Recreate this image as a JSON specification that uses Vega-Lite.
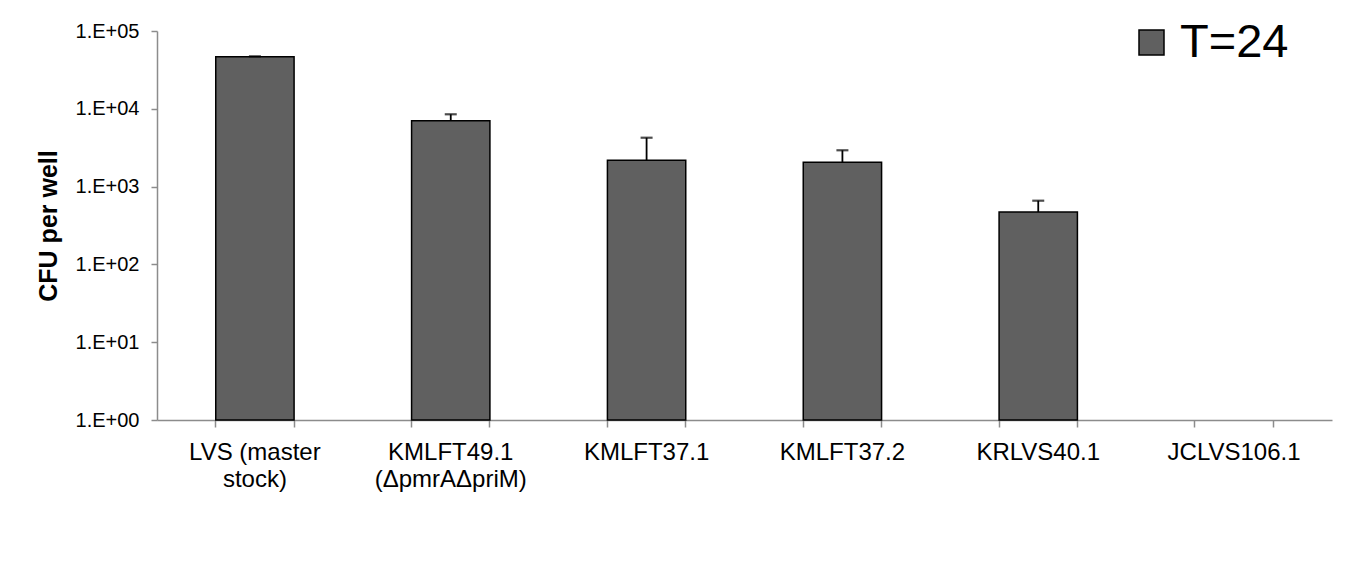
{
  "$schema": "https://vega.github.io/schema/vega-lite/v6.json",
  "width": 1175,
  "height": 389,
  "autosize": "none",
  "padding": {"left": 157, "top": 31, "right": 39, "bottom": 149},
  "background": "white",
  "config": {
    "font": "Liberation Sans",
    "view": {"stroke": null},
    "axis": {"labelFont": "Liberation Sans", "labelColor": "black", "domainColor": "#8c8c8c", "tickColor": "#8c8c8c", "grid": false, "domainWidth": 1.5, "tickWidth": 1.5}
  },
  "data": {
    "values": [
      {"strain": "LVS (master stock)", "series": "T=24", "cfu": 46700, "upper": 47300},
      {"strain": "KMLFT49.1 (ΔpmrAΔpriM)", "series": "T=24", "cfu": 7030, "upper": 8500},
      {"strain": "KMLFT37.1", "series": "T=24", "cfu": 2180, "upper": 4250},
      {"strain": "KMLFT37.2", "series": "T=24", "cfu": 2050, "upper": 2930},
      {"strain": "KRLVS40.1", "series": "T=24", "cfu": 472, "upper": 659},
      {"strain": "JCLVS106.1", "series": "T=24", "cfu": null, "upper": null}
    ]
  },
  "encoding": {
    "x": {
      "field": "strain",
      "type": "nominal",
      "sort": null,
      "scale": {
        "domain": ["LVS (master stock)", "KMLFT49.1 (ΔpmrAΔpriM)", "KMLFT37.1", "KMLFT37.2", "KRLVS40.1", "JCLVS106.1"],
        "paddingInner": 0.6,
        "paddingOuter": 0.3
      }
    }
  },
  "layer": [
    {
      "mark": {"type": "bar", "stroke": "black", "strokeWidth": 1.5},
      "encoding": {
        "x": {
          "field": "strain", "type": "nominal", "sort": null,
          "axis": {"orient": "bottom", "title": null, "labels": false, "ticks": true, "tickSize": 7, "bandPosition": 0, "domain": true}
        },
        "y": {
          "field": "cfu",
          "type": "quantitative",
          "scale": {"type": "log", "domain": [1, 100000], "nice": false},
          "axis": {
            "title": "CFU per well",
            "titleFont": "Liberation Sans",
            "titleFontSize": 25,
            "titleFontWeight": "bold",
            "titleColor": "black",
            "titlePadding": 14,
            "values": [1, 10, 100, 1000, 10000, 100000],
            "labelExpr": "'1.E+0' + round(log(datum.value) / LN10)",
            "labelFontSize": 20,
            "labelPadding": 12,
            "tickSize": 6
          }
        },
        "y2": {"datum": 1},
        "color": {
          "field": "series",
          "type": "nominal",
          "scale": {"range": ["#606060"]},
          "legend": {
            "title": null,
            "orient": "none",
            "legendX": 971,
            "legendY": -12,
            "symbolType": "square",
            "symbolSize": 625,
            "symbolStrokeColor": "black",
            "symbolStrokeWidth": 1.5,
            "symbolFillColor": "#606060",
            "symbolOpacity": 1,
            "labelFontSize": 47,
            "labelFont": "Liberation Sans",
            "labelColor": "black",
            "labelOffset": 5,
            "labelLimit": 400
          }
        }
      }
    },
    {
      "mark": {"type": "rule", "color": "black", "strokeWidth": 1.8},
      "encoding": {
        "x": {
          "field": "strain", "type": "nominal", "sort": null,
          "axis": {"orient": "bottom", "title": null, "labels": false, "ticks": true, "tickSize": 7, "bandPosition": 1, "domain": false}
        },
        "y": {"field": "cfu", "type": "quantitative"},
        "y2": {"field": "upper"}
      }
    },
    {
      "mark": {"type": "tick", "color": "black", "thickness": 2.2, "size": 12, "orient": "horizontal"},
      "encoding": {
        "x": {
          "field": "strain", "type": "nominal", "sort": null,
          "axis": {
            "orient": "bottom", "title": null, "ticks": false, "domain": false,
            "labelFontSize": 24,
            "labelPadding": 20,
            "labelLineHeight": 27,
            "labelAngle": 0,
            "labelBaseline": "top",
            "labelLimit": 300,
            "labelExpr": "datum.value == 'LVS (master stock)' ? ['LVS (master', 'stock)'] : datum.value == 'KMLFT49.1 (ΔpmrAΔpriM)' ? ['KMLFT49.1', '(ΔpmrAΔpriM)'] : datum.value"
          }
        },
        "y": {"field": "upper", "type": "quantitative"}
      }
    }
  ],
  "resolve": {"axis": {"x": "independent"}}
}
